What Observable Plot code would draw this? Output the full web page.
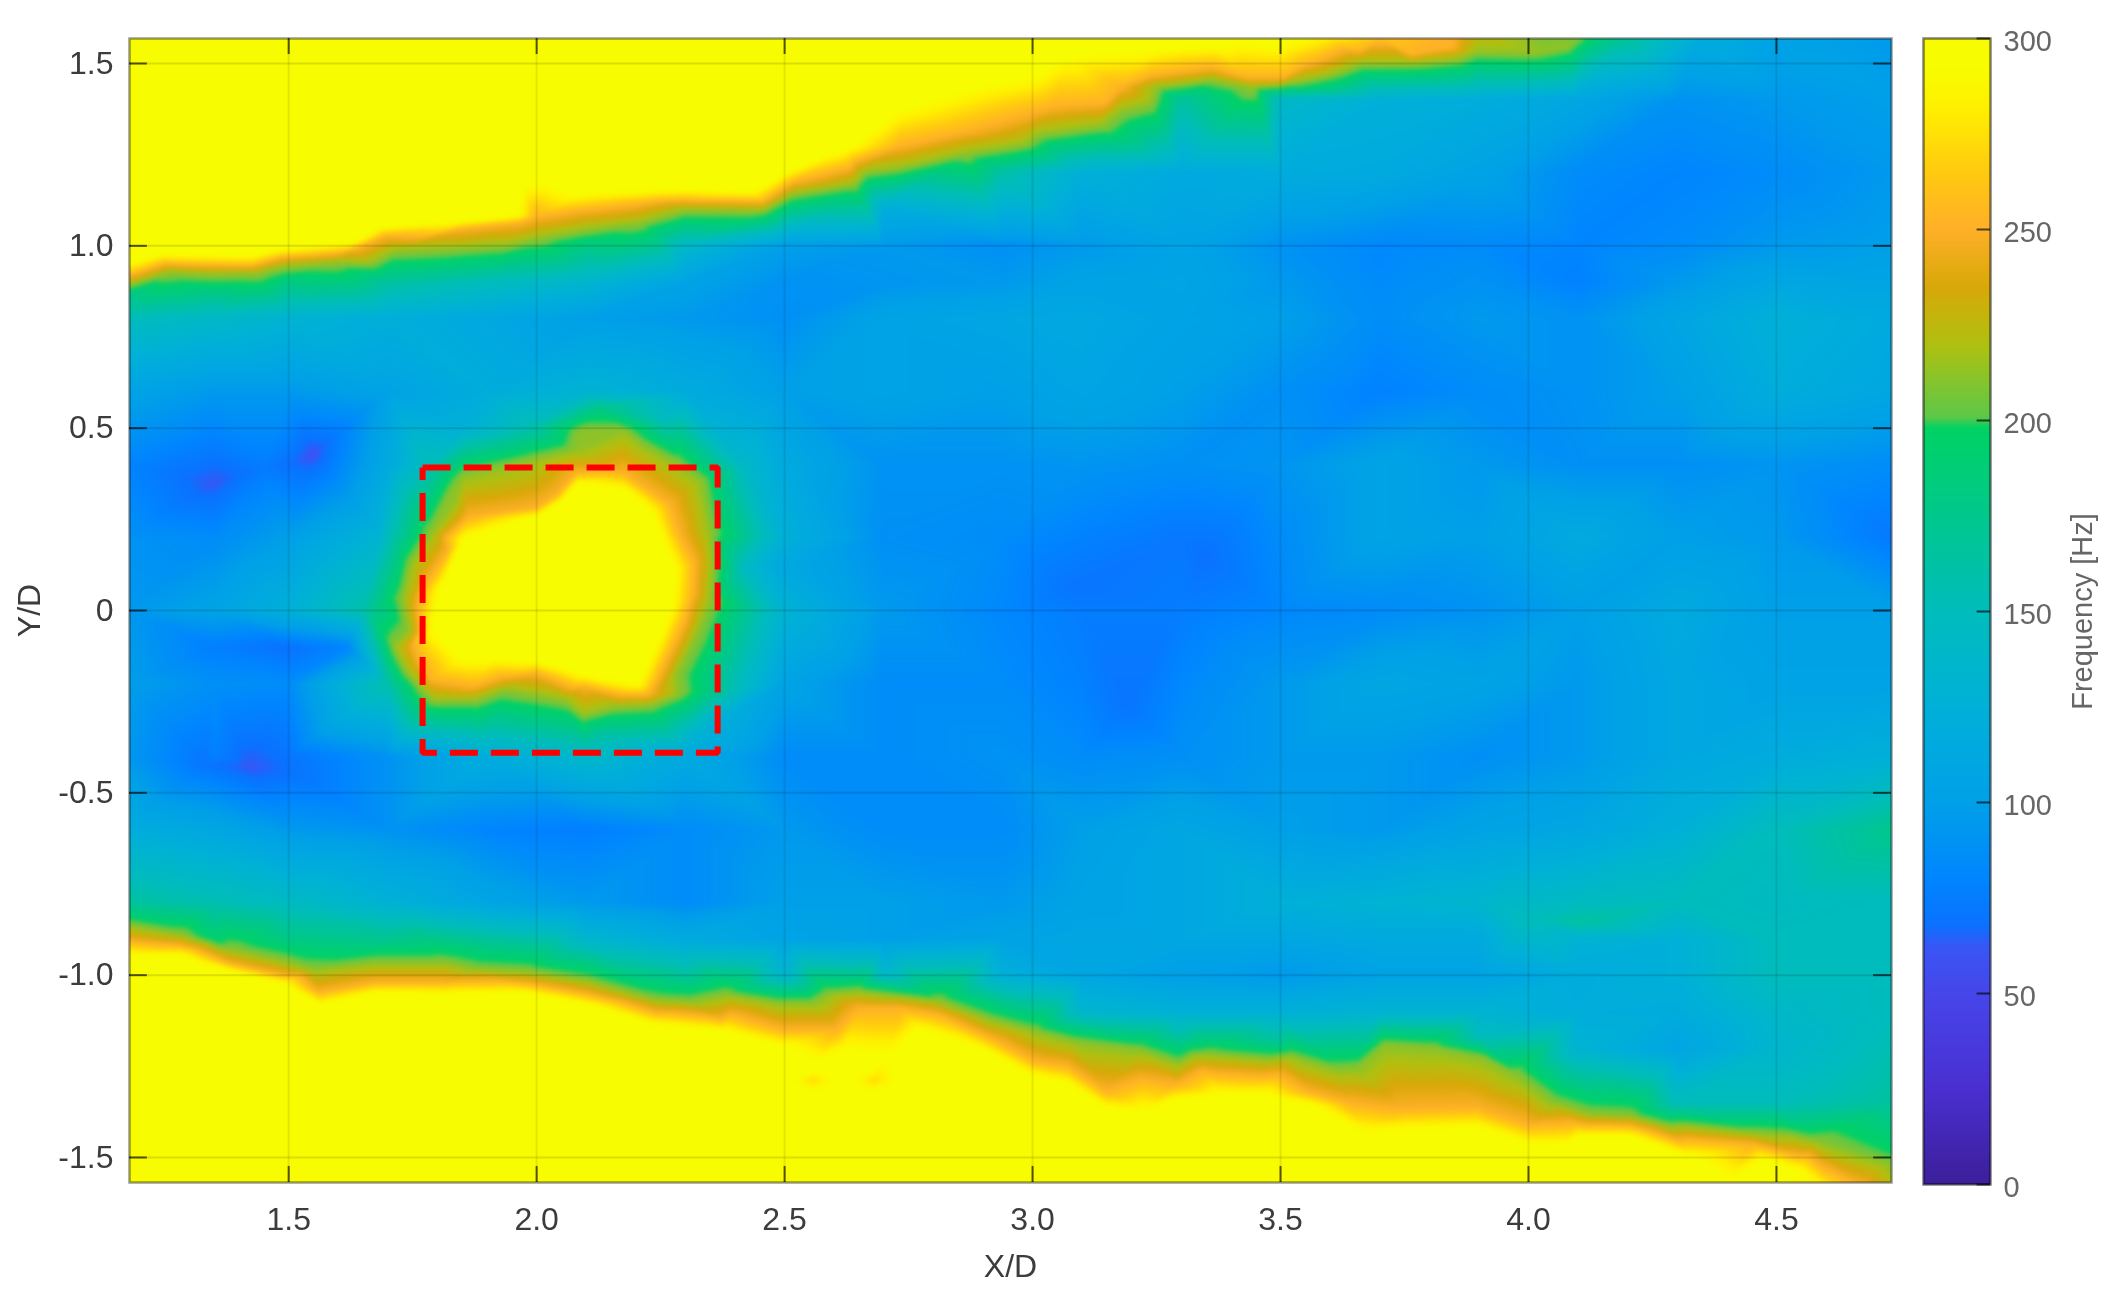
<!DOCTYPE html>
<html><head><meta charset="utf-8">
<style>
html,body{margin:0;padding:0;background:#fff;width:2117px;height:1301px;overflow:hidden}
#wrap{position:relative;width:2117px;height:1301px}
#wrap svg{position:absolute;top:0;filter:blur(0.7px)}
</style>
<script src="https://cdn.jsdelivr.net/npm/d3@7"></script>
<script src="https://cdn.jsdelivr.net/npm/@observablehq/plot@0.6"></script>
</head><body><div id="wrap"></div>
<script>
const xTicks=[1.5,2,2.5,3,3.5,4,4.5];
const yTicks=[-1.5,-1,-0.5,0,0.5,1,1.5];
const colorTicks=[0,50,100,150,200,250,300];
const colorStops=[0,25,50,62,68,80,100,125,150,175,198,201,220,235,250,265,282,292,300];
const colorRamp=["#3b1f9a","#4a2fd0","#4646ea","#3a55f5","#0a72ff","#0085ff","#00a0e8","#00b0d8","#00bcbc","#00c88c","#00d264","#5ec848","#b0c010","#d8a808","#ffb028","#ffca10","#fff000","#f8fc00","#f8fc00"];

const n=null;
const gridX=[1.17,1.35,1.5,1.7,1.9,2.1,2.3,2.5,2.7,2.94,3.1,3.3,3.5,3.7,3.9,4.1,4.3,4.5,4.74];
const gridY=[1.4,1.2,1.0,0.9,0.8,0.6,0.4,0.2,0,-0.2,-0.4,-0.6,-0.8,-0.9,-1.0,-1.1,-1.2,-1.35];
const gridValues=[
[n,n,n,n,n,n,n,n,n,n,n,165,140,125,120,110,90,95,100],
[n,n,n,n,n,n,n,n,n,160,125,115,118,115,105,85,80,85,95],
[n,n,n,n,n,180,140,100,95,88,95,105,90,82,84,80,85,95,100],
[n,n,180,165,150,135,105,90,92,95,105,108,95,84,90,78,95,110,108],
[150,140,130,122,112,100,95,88,105,110,112,105,100,86,95,90,108,125,115],
[105,95,95,105,120,130,118,100,105,100,108,100,88,78,85,90,100,120,110],
[80,68,68,115,n,n,n,115,90,90,92,88,92,105,95,88,88,92,85],
[90,85,100,150,n,n,n,125,88,85,78,72,85,105,100,115,100,95,72],
[95,105,125,185,n,n,n,130,95,82,75,75,82,85,90,100,115,100,100],
[100,88,85,160,n,n,n,105,85,85,78,82,95,110,105,95,112,105,105],
[95,78,70,90,120,140,115,85,85,90,85,88,95,95,88,95,112,118,125],
[120,110,95,90,80,76,85,95,85,85,100,110,100,95,105,110,125,150,175],
[165,155,145,128,108,95,85,100,100,95,105,110,125,130,135,145,150,145,150],
[n,190,178,172,165,135,115,105,100,105,110,110,110,115,115,130,125,150,150],
[n,n,n,n,n,n,165,135,140,125,110,100,95,105,105,118,125,150,150],
[n,n,n,n,n,n,n,n,n,n,135,125,125,130,130,120,118,140,150],
[n,n,n,n,n,n,n,n,n,n,n,n,n,n,n,130,108,135,155],
[n,n,n,n,n,n,n,n,n,n,n,n,n,n,n,n,150,150,165]
];
// spot readings [x, y, Hz]
const spots=[[1.5,-0.1,68],[1.35,-0.1,76],[1.62,-0.1,80],[1.55,0.43,60],[1.35,0.35,62],[1.45,0.39,74],[1.42,-0.43,62],[1.33,-0.42,70],[1.52,-0.45,70],[3.35,0.15,68],[3.08,0.06,70],[3.19,-0.26,70],[4.1,-0.853,165],[4.0,-0.85,150],[1.17,0.85,165],[1.35,0.85,165],[2.7,1.1,120],[3.3,-1.15,150],[3.5,-1.17,160],[3.9,-1.17,150],
[1.652,0,160],[2.42,0.12,145],[2.485,0.12,115],[2.12,-0.338,165],[2.12,-0.43,130],[1.853,-0.338,150],[2.324,-0.338,130],[1.786,0.393,155],[1.685,0.21,130],[2.425,0.393,140],[2.458,0.53,115],[1.988,0.503,155],[1.853,0.503,125],[2.257,0.521,150],[2.13,0.55,180],[1.742,-0.1,240],
[2.558,-1.289,272],[2.68,-1.289,272],
[3.6,1.575,285],[3.7,1.575,265],[3.85,1.575,250],[3.9,1.575,225],[4.05,1.575,205],[4.12,1.575,200],[4.2,1.575,170],[4.35,1.575,120],[4.74,1.575,95],[4.5,1.575,105],
[4.6,-1.575,280],[4.67,-1.575,250],[4.74,-1.575,220],[4.74,-1.5,200]];

const top200=[[1.17,0.89],[1.26,0.928],[1.344,0.923],[1.437,0.925],[1.488,0.943],[1.59,0.955],[1.694,0.973],[1.714,0.987],[1.848,0.995],[2.0,1.022],[2.105,1.047],[2.208,1.065],[2.3,1.099],[2.455,1.097],[2.517,1.143],[2.64,1.17],[2.66,1.202],[2.734,1.215],[2.868,1.256],[2.98,1.279],[3.012,1.307],[3.135,1.33],[3.176,1.371],[3.238,1.393],[3.248,1.435],[3.362,1.457],[3.444,1.435],[3.516,1.446],[3.66,1.499],[3.763,1.5],[3.855,1.512],[3.897,1.533],[4.01,1.53],[4.08,1.549]];
const top250=[[1.17,0.915],[1.26,0.951],[1.426,0.946],[1.488,0.969],[1.632,0.992],[1.694,1.028],[1.848,1.047],[1.97,1.065],[2.0,1.08],[2.085,1.097],[2.208,1.115],[2.31,1.124],[2.455,1.12],[2.517,1.174],[2.64,1.23],[2.734,1.275],[2.868,1.316],[3.0,1.366],[3.043,1.384],[3.146,1.393],[3.176,1.435],[3.238,1.467],[3.362,1.489],[3.434,1.462],[3.506,1.462],[3.557,1.499],[3.66,1.535],[3.763,1.524],[3.845,1.544]];
const top295=[[1.17,0.95],[1.24,0.978],[1.426,0.973],[1.488,0.992],[1.632,1.01],[1.683,1.051],[1.848,1.068],[1.961,1.083],[1.971,1.17],[2.013,1.181],[2.085,1.143],[2.208,1.152],[2.31,1.156],[2.435,1.15],[2.507,1.206],[2.62,1.266],[2.734,1.38],[2.868,1.435],[3.0,1.47],[3.07,1.526],[3.248,1.544],[3.372,1.553],[3.506,1.558]];
const bottom200=[[1.17,-0.86],[1.282,-0.886],[1.385,-0.928],[1.488,-0.958],[1.55,-0.982],[1.673,-0.964],[1.817,-0.964],[1.879,-0.982],[1.982,-0.989],[2.105,-1.014],[2.239,-1.065],[2.31,-1.071],[2.383,-1.051],[2.486,-1.074],[2.558,-1.074],[2.589,-1.049],[2.65,-1.042],[2.734,-1.056],[2.81,-1.069],[2.915,-1.12],[3.005,-1.152],[3.083,-1.179],[3.212,-1.202],[3.354,-1.214],[3.522,-1.22],[3.612,-1.257],[3.651,-1.254],[3.71,-1.188],[3.806,-1.197],[3.91,-1.225],[3.974,-1.271],[4.052,-1.348],[4.129,-1.38],[4.207,-1.385],[4.284,-1.412],[4.452,-1.43],[4.581,-1.453]];
const bottom250=[[1.17,-0.905],[1.282,-0.918],[1.385,-0.969],[1.488,-1.0],[1.56,-1.046],[1.673,-1.019],[1.817,-1.019],[1.982,-1.022],[2.105,-1.051],[2.239,-1.101],[2.373,-1.12],[2.393,-1.106],[2.496,-1.147],[2.604,-1.147],[2.65,-1.088],[2.734,-1.088],[2.81,-1.106],[2.915,-1.17],[3.005,-1.234],[3.07,-1.248],[3.147,-1.316],[3.29,-1.298],[3.341,-1.261],[3.457,-1.275],[3.561,-1.321],[3.638,-1.348],[3.742,-1.366],[3.897,-1.362],[4.0,-1.408],[4.09,-1.403],[4.22,-1.417],[4.323,-1.449],[4.452,-1.462],[4.543,-1.494]];
const bottom295=[[1.17,-0.946],[1.282,-0.946],[1.385,-0.99],[1.488,-1.023],[1.565,-1.083],[1.673,-1.051],[1.817,-1.053],[1.982,-1.051],[2.105,-1.083],[2.239,-1.138],[2.373,-1.156],[2.496,-1.197],[2.62,-1.211],[2.712,-1.225],[2.773,-1.152],[2.9,-1.206],[2.992,-1.275],[3.07,-1.298],[3.147,-1.367],[3.225,-1.376],[3.277,-1.348],[3.38,-1.33],[3.47,-1.33],[3.561,-1.357],[3.664,-1.435],[3.768,-1.426],[3.897,-1.421],[4.0,-1.467],[4.078,-1.467],[4.104,-1.444],[4.207,-1.444],[4.323,-1.499],[4.478,-1.508],[4.543,-1.536]];
const core200=[[2.089,0.494],[2.176,0.494],[2.21,0.457],[2.284,0.402],[2.331,0.357],[2.337,0.311],[2.351,0.21],[2.351,0.0275],[2.324,-0.064],[2.283,-0.174],[2.287,-0.228],[2.23,-0.26],[2.162,-0.265],[2.095,-0.288],[2.055,-0.247],[2.0,-0.233],[1.934,-0.219],[1.874,-0.247],[1.793,-0.247],[1.766,-0.21],[1.712,-0.1],[1.743,-0.055],[1.731,0.037],[1.746,0.128],[1.786,0.21],[1.833,0.293],[1.827,0.32],[1.853,0.37],[1.988,0.411],[2.075,0.439]];
const core250=[[2.082,0.379],[2.176,0.379],[2.27,0.292],[2.29,0.21],[2.32,0.128],[2.317,0.046],[2.283,-0.082],[2.23,-0.228],[2.169,-0.233],[2.095,-0.21],[2.0,-0.174],[1.934,-0.183],[1.874,-0.21],[1.786,-0.192],[1.766,-0.146],[1.78,0.082],[1.82,0.165],[1.86,0.256],[2.0,0.283],[2.042,0.32]];
const core295=[[2.082,0.347],[2.176,0.329],[2.23,0.265],[2.257,0.174],[2.277,0.11],[2.27,0.009],[2.243,-0.082],[2.203,-0.201],[2.095,-0.174],[2.0,-0.137],[1.907,-0.128],[1.853,-0.128],[1.793,-0.046],[1.806,0.055],[1.853,0.192],[2.0,0.256],[2.055,0.302]];
const saturated=[[1.17,1.575],[1.8,1.575],[2.4,1.575],[3.0,1.575],[3.4,1.575],[1.17,1.25],[1.17,-1.2],[1.17,-1.575],[1.8,-1.575],[2.4,-1.575],[3.0,-1.575],[3.5,-1.575],[4.0,-1.575],[4.4,-1.575],[2.0,0.05],[2.1,0.1],[2.15,-0.05],[1.95,0.1],
[2.5,-1.29],[2.558,-1.25],[2.62,-1.29],[2.558,-1.33],[2.74,-1.29],[2.68,-1.25],[2.68,-1.33]];
const boxCorners=[[1.77,0.392],[2.365,0.392],[2.365,-0.39],[1.77,-0.39],[1.77,0.392]];

const samples=[];
gridValues.forEach((row,j)=>row.forEach((v,i)=>{if(v!==null)samples.push({x:gridX[i],y:gridY[j],v})}));
spots.forEach(([x,y,v])=>samples.push({x,y,v}));
const addLevel=(list,v)=>list.forEach(([x,y])=>samples.push({x,y,v}));
addLevel(top200,214);addLevel(top250,252);addLevel(top295,296);
addLevel(bottom200,210);addLevel(bottom250,250);addLevel(bottom295,296);
addLevel(core200,212);addLevel(core250,250);addLevel(core295,296);addLevel(saturated,300);

const colorScale={type:"linear",domain:colorStops,range:colorRamp,clamp:true};
const fontStyle={fontFamily:"'Liberation Sans',Arial,sans-serif",fontSize:"32px",color:"#3c3c3c",background:"transparent"};
const xDom=[1.179,4.732], yDom=[-1.5686,1.5686];
const xLen=0.036, yLen=0.044;
const tickInk={stroke:"#000",strokeOpacity:0.65,strokeWidth:2};

const main=Plot.plot({
  width:2117,height:1301,marginLeft:129,marginRight:226,marginTop:38,marginBottom:119,
  style:fontStyle,
  x:{domain:xDom,label:null},y:{domain:yDom,label:null},
  color:colorScale,
  marks:[
    Plot.raster(samples,{x:"x",y:"y",fill:"v",interpolate:"barycentric",x1:xDom[0],x2:xDom[1],y1:yDom[0],y2:yDom[1],pixelSize:1,blur:1.5}),
    Plot.gridX(xTicks,{stroke:"#000",strokeOpacity:0.09,strokeWidth:2}),
    Plot.gridY(yTicks,{stroke:"#000",strokeOpacity:0.12,strokeWidth:2}),
    Plot.ruleX(xTicks,{y1:yDom[0],y2:yDom[0]+yLen,...tickInk}),
    Plot.ruleX(xTicks,{y1:yDom[1],y2:yDom[1]-yLen,...tickInk}),
    Plot.ruleY(yTicks,{x1:xDom[0],x2:xDom[0]+xLen,...tickInk}),
    Plot.ruleY(yTicks,{x1:xDom[1],x2:xDom[1]-xLen,...tickInk}),
    Plot.line(boxCorners,{x:d=>d[0],y:d=>d[1],stroke:"#ff0000",strokeWidth:6,strokeDasharray:"28,13",strokeLinecap:"butt",strokeLinejoin:"miter"}),
    Plot.frame({stroke:"#000",strokeOpacity:0.4,strokeWidth:2.5}),
    Plot.axisX(xTicks,{anchor:"bottom",tickSize:0,tickPadding:25,tickFormat:d=>d.toFixed(1),label:"X/D",labelAnchor:"center",labelArrow:"none",labelOffset:94}),
    Plot.axisY(yTicks,{anchor:"left",tickSize:0,tickPadding:16,tickFormat:d=>d===0?"0":d.toFixed(1),label:"Y/D",labelAnchor:"center",labelArrow:"none",labelOffset:112})
  ]
});

const bar=Plot.plot({
  width:217,height:1301,marginLeft:23,marginRight:127,marginTop:38,marginBottom:117,
  style:{...fontStyle,fontSize:"29px",color:"#666"},
  x:{domain:[0,1],axis:null},y:{domain:[0,300],label:null},
  color:colorScale,
  marks:[
    Plot.raster({width:1,height:1146,x1:0,x2:1,y1:0,y2:300,fill:(x,y)=>y,imageRendering:"auto"}),
    Plot.ruleY(colorTicks,{x1:0.8,x2:1,...tickInk}),
    Plot.frame({stroke:"#000",strokeOpacity:0.5,strokeWidth:2.5}),
    Plot.axisY(colorTicks,{anchor:"right",tickSize:0,tickPadding:13,label:null,dy:3}),
    Plot.text(["Frequency [Hz]"],{frameAnchor:"right",dx:92,rotate:-90,textAnchor:"middle",fontSize:29,fill:"#666"})
  ]
});
bar.style.left="1900px";bar.style.position="absolute";
const wrap=document.getElementById("wrap");
wrap.appendChild(main);wrap.appendChild(bar);
</script></body></html>
